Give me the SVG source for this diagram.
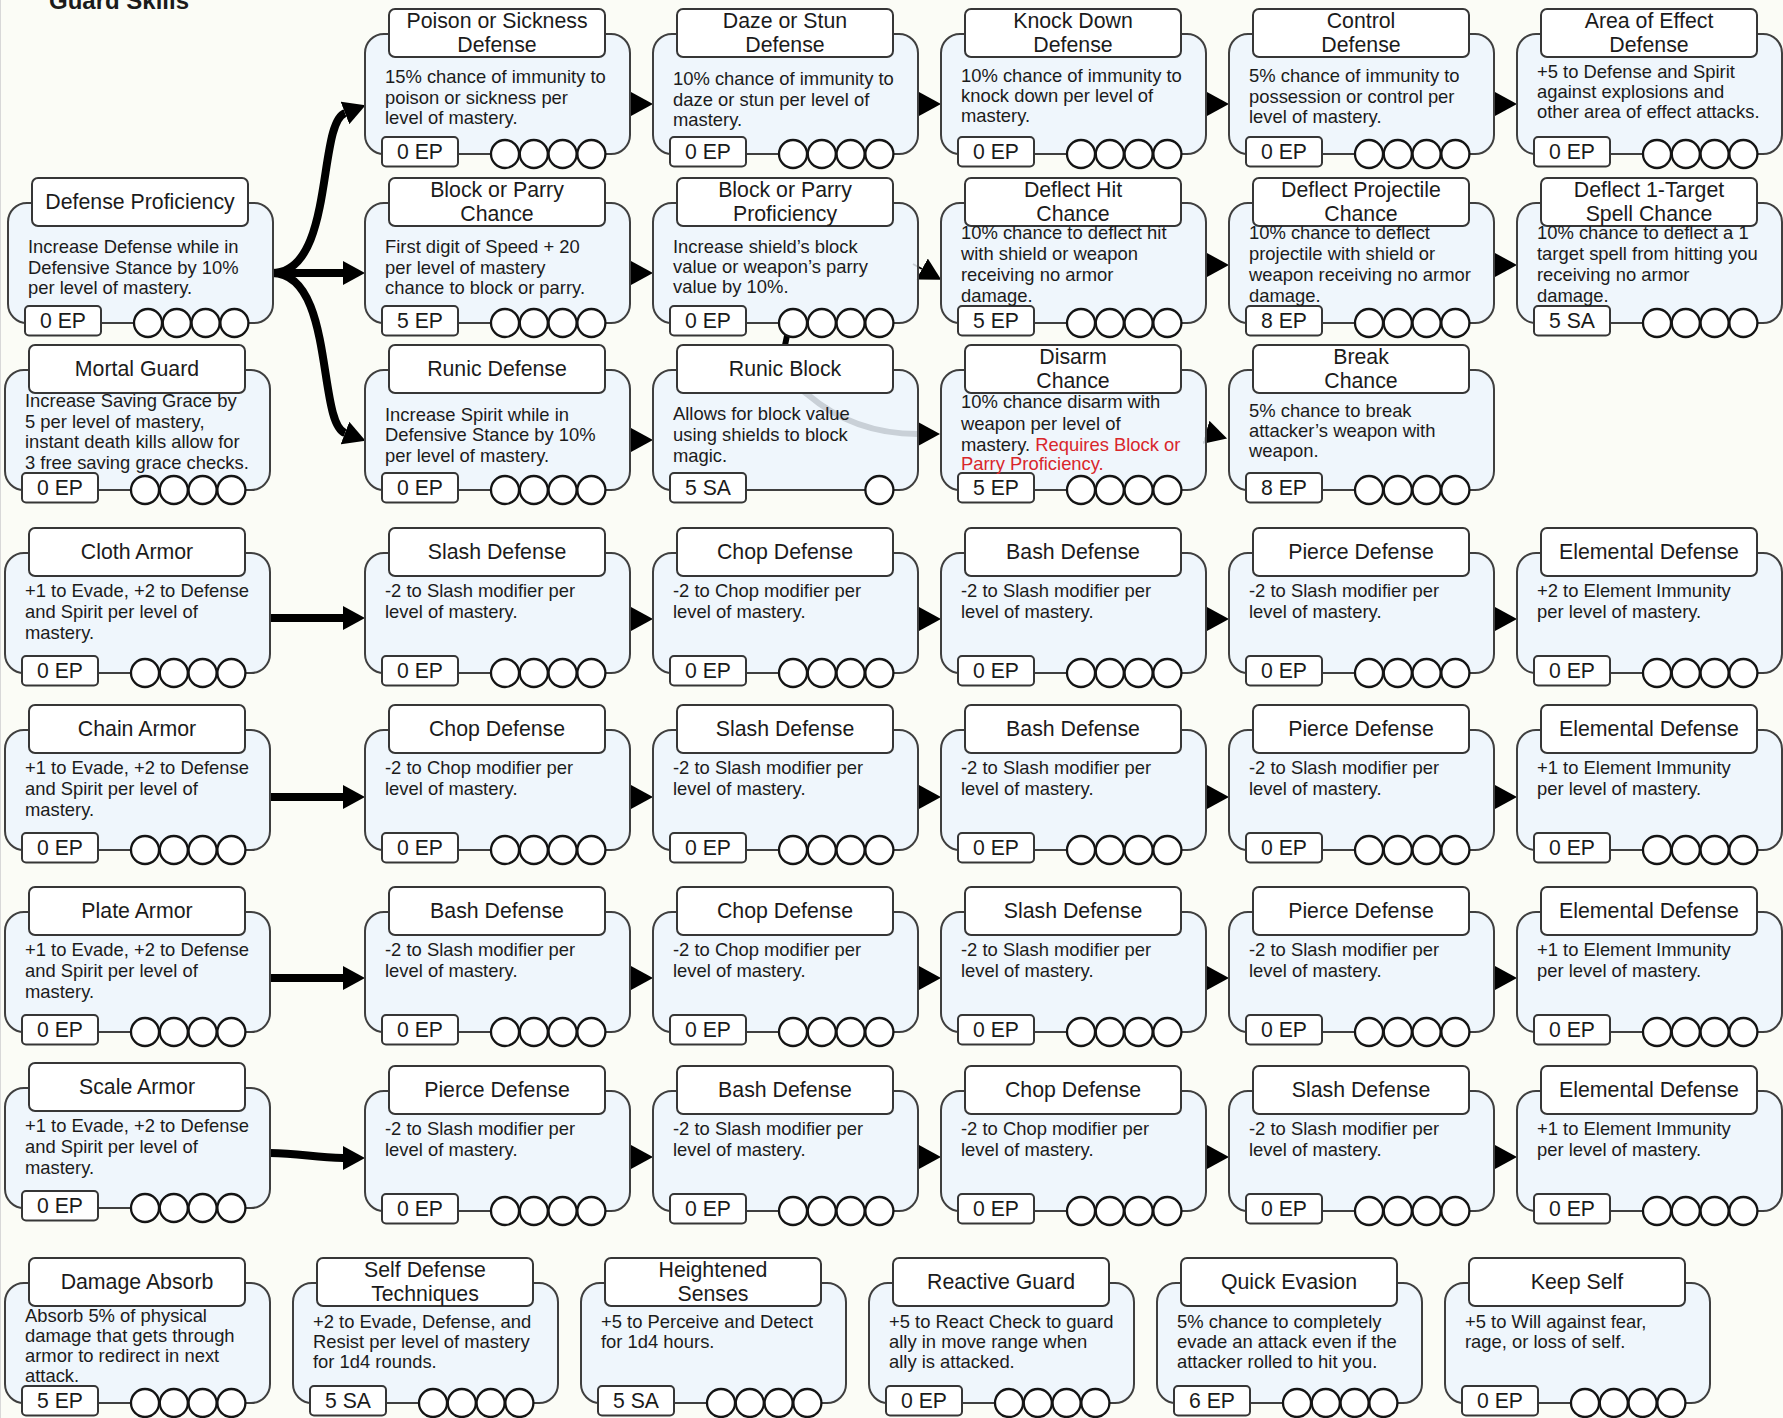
<svg xmlns="http://www.w3.org/2000/svg" xmlns:xlink="http://www.w3.org/1999/xlink" width="1783" height="1418" viewBox="0 0 1783 1418">
<style>
.bd{fill:#ecf4fd;fill-opacity:.85;stroke:#3f3f3f;stroke-width:2}
.tb{fill:#fff;stroke:#363636;stroke-width:2}
.eb{fill:#fff;stroke:#363636;stroke-width:2}
.ck{fill:#fff;stroke:#141414;stroke-width:2.3}
text{font-family:"Liberation Sans",Arial,sans-serif;fill:#1b1b1b}
.t{font-size:21.3px;text-anchor:middle}
.d{font-size:18.4px}
.e{font-size:21.2px;text-anchor:middle}
.r{fill:#d9262b}
.h{font-size:24px;font-weight:bold}
.cn{fill:none;stroke:#000;stroke-width:2;marker-end:url(#ah)}
.ct{fill:none;stroke:#000;stroke-width:8;marker-end:url(#ah)}
</style>
<defs>
<marker id="ah" markerUnits="userSpaceOnUse" markerWidth="22" markerHeight="24" viewBox="0 0 22 24" refX="0" refY="12" orient="auto"><path d="M0,0 L22,12 L0,24 z" fill="#000"/></marker>
<!-- skill card: body, title tab, cost box, four mastery pips -->
<g id="frame">
<rect class="bd" x="0" y="0" width="265" height="120" rx="19"/>
<rect class="tb" x="24" y="-25" width="216" height="48" rx="6"/>
<rect class="eb" x="17" y="103" width="76" height="29.5" rx="4"/>
<circle class="ck" cx="140" cy="120" r="14"/>
<circle class="ck" cx="168.8" cy="120" r="14"/>
<circle class="ck" cx="197.6" cy="120" r="14"/>
<circle class="ck" cx="226.4" cy="120" r="14"/>
</g>
<!-- single-pip variant -->
<g id="frame1">
<rect class="bd" x="0" y="0" width="265" height="120" rx="19"/>
<rect class="tb" x="24" y="-25" width="216" height="48" rx="6"/>
<rect class="eb" x="17" y="103" width="76" height="29.5" rx="4"/>
<circle class="ck" cx="226.4" cy="120" r="14"/>
</g>
</defs>

<rect width="1783" height="1418" fill="#fbfcf6"/>
<line x1="0.5" y1="0" x2="0.5" y2="1418" stroke="#d8d8d8"/>
<text class="h" x="49" y="9">Guard Skills</text>

<!-- connectors -->
<g id="connectors">
<path class="ct" d="M272,273 C335,273 317,123.7 345,113"/>
<path class="ct" d="M272,273 L343,273"/>
<path class="ct" d="M272,273 C335,273 317,422.3 345,433"/>
<path class="ct" d="M270,618 L343,618"/>
<path class="ct" d="M270,797 L343,797"/>
<path class="ct" d="M270,978 L343,978"/>
<path class="ct" d="M270,1153 C300,1153 315,1158 343,1158"/>
<path d="M788,331 L784,350 C781,368 792,384 807,394 C835,418 872,434 918,434" fill="none" stroke="#000" stroke-width="6" marker-end="url(#ah)"/>
<!-- row A -->
<path class="cn" d="M630,104 h1"/><path class="cn" d="M918,104 h1"/><path class="cn" d="M1206,104 h1"/><path class="cn" d="M1494,104 h1"/>
<!-- row B -->
<path class="cn" d="M630,273 h1"/><path class="cn" d="M913,264 L922,269"/><path class="cn" d="M1206,265 h1"/><path class="cn" d="M1494,265 h1"/>
<!-- row C -->
<path class="cn" d="M630,440 h1"/><path class="cn" d="M1205,432 l1,0.3"/>
<!-- armor rows -->
<path class="cn" d="M630,619 h1"/><path class="cn" d="M918,619 h1"/><path class="cn" d="M1206,619 h1"/><path class="cn" d="M1494,619 h1"/>
<path class="cn" d="M630,797 h1"/><path class="cn" d="M918,797 h1"/><path class="cn" d="M1206,797 h1"/><path class="cn" d="M1494,797 h1"/>
<path class="cn" d="M630,978 h1"/><path class="cn" d="M918,978 h1"/><path class="cn" d="M1206,978 h1"/><path class="cn" d="M1494,978 h1"/>
<path class="cn" d="M630,1157 h1"/><path class="cn" d="M918,1157 h1"/><path class="cn" d="M1206,1157 h1"/><path class="cn" d="M1494,1157 h1"/>
</g>

<!-- row A -->
<g id="poison-sickness-defense" transform="translate(365,34)"><use xlink:href="#frame"/>
<text class="t" x="132" y="-6.5">Poison or Sickness</text><text class="t" x="132" y="17.5">Defense</text>
<text class="d"><tspan x="20" y="49">15% chance of immunity to</tspan><tspan x="20" y="70">poison or sickness per</tspan><tspan x="20" y="90">level of mastery.</tspan></text>
<text class="e" x="55" y="125">0 EP</text></g>
<g id="daze-stun-defense" transform="translate(653,34)"><use xlink:href="#frame"/>
<text class="t" x="132" y="-6.5">Daze or Stun</text><text class="t" x="132" y="17.5">Defense</text>
<text class="d"><tspan x="20" y="51">10% chance of immunity to</tspan><tspan x="20" y="72">daze or stun per level of</tspan><tspan x="20" y="92">mastery.</tspan></text>
<text class="e" x="55" y="125">0 EP</text></g>
<g id="knock-down-defense" transform="translate(941,34)"><use xlink:href="#frame"/>
<text class="t" x="132" y="-6.5">Knock Down</text><text class="t" x="132" y="17.5">Defense</text>
<text class="d"><tspan x="20" y="48">10% chance of immunity to</tspan><tspan x="20" y="68">knock down per level of</tspan><tspan x="20" y="88">mastery.</tspan></text>
<text class="e" x="55" y="125">0 EP</text></g>
<g id="control-defense" transform="translate(1229,34)"><use xlink:href="#frame"/>
<text class="t" x="132" y="-6.5">Control</text><text class="t" x="132" y="17.5">Defense</text>
<text class="d"><tspan x="20" y="48">5% chance of immunity to</tspan><tspan x="20" y="69">possession or control per</tspan><tspan x="20" y="89">level of mastery.</tspan></text>
<text class="e" x="55" y="125">0 EP</text></g>
<g id="area-effect-defense" transform="translate(1517,34)"><use xlink:href="#frame"/>
<text class="t" x="132" y="-6.5">Area of Effect</text><text class="t" x="132" y="17.5">Defense</text>
<text class="d"><tspan x="20" y="44">+5 to Defense and Spirit</tspan><tspan x="20" y="64">against explosions and</tspan><tspan x="20" y="84">other area of effect attacks.</tspan></text>
<text class="e" x="55" y="125">0 EP</text></g>

<!-- row B -->
<g id="defense-proficiency" transform="translate(8,203)"><use xlink:href="#frame"/>
<text class="t" x="132" y="6">Defense Proficiency</text>
<text class="d"><tspan x="20" y="50">Increase Defense while in</tspan><tspan x="20" y="70.5">Defensive Stance by 10%</tspan><tspan x="20" y="91">per level of mastery.</tspan></text>
<text class="e" x="55" y="125">0 EP</text></g>
<g id="block-parry-chance" transform="translate(365,203)"><use xlink:href="#frame"/>
<text class="t" x="132" y="-6.5">Block or Parry</text><text class="t" x="132" y="17.5">Chance</text>
<text class="d"><tspan x="20" y="50">First digit of Speed + 20</tspan><tspan x="20" y="71">per level of mastery</tspan><tspan x="20" y="91">chance to block or parry.</tspan></text>
<text class="e" x="55" y="125">5 EP</text></g>
<g id="block-parry-proficiency" transform="translate(653,203)"><use xlink:href="#frame"/>
<text class="t" x="132" y="-6.5">Block or Parry</text><text class="t" x="132" y="17.5">Proficiency</text>
<text class="d"><tspan x="20" y="50">Increase shield’s block</tspan><tspan x="20" y="70">value or weapon’s parry</tspan><tspan x="20" y="90">value by 10%.</tspan></text>
<text class="e" x="55" y="125">0 EP</text></g>
<g id="deflect-hit-chance" transform="translate(941,203)"><use xlink:href="#frame"/>
<text class="t" x="132" y="-6.5">Deflect Hit</text><text class="t" x="132" y="17.5">Chance</text>
<text class="d"><tspan x="20" y="36">10% chance to deflect hit</tspan><tspan x="20" y="57">with shield or weapon</tspan><tspan x="20" y="78">receiving no armor</tspan><tspan x="20" y="98.5">damage.</tspan></text>
<text class="e" x="55" y="125">5 EP</text></g>
<g id="deflect-projectile-chance" transform="translate(1229,203)"><use xlink:href="#frame"/>
<text class="t" x="132" y="-6.5">Deflect Projectile</text><text class="t" x="132" y="17.5">Chance</text>
<text class="d"><tspan x="20" y="36">10% chance to deflect</tspan><tspan x="20" y="57">projectile with shield or</tspan><tspan x="20" y="78">weapon receiving no armor</tspan><tspan x="20" y="98.5">damage.</tspan></text>
<text class="e" x="55" y="125">8 EP</text></g>
<g id="deflect-spell-chance" transform="translate(1517,203)"><use xlink:href="#frame"/>
<text class="t" x="132" y="-6.5">Deflect 1-Target</text><text class="t" x="132" y="17.5">Spell Chance</text>
<text class="d"><tspan x="20" y="36">10% chance to deflect a 1</tspan><tspan x="20" y="57">target spell from hitting you</tspan><tspan x="20" y="78">receiving no armor</tspan><tspan x="20" y="98.5">damage.</tspan></text>
<text class="e" x="55" y="125">5 SA</text></g>

<!-- row C -->
<g id="mortal-guard" transform="translate(5,370)"><use xlink:href="#frame"/>
<text class="t" x="132" y="6">Mortal Guard</text>
<text class="d"><tspan x="20" y="37">Increase Saving Grace by</tspan><tspan x="20" y="58">5 per level of mastery,</tspan><tspan x="20" y="78">instant death kills allow for</tspan><tspan x="20" y="98.5">3 free saving grace checks.</tspan></text>
<text class="e" x="55" y="125">0 EP</text></g>
<g id="runic-defense" transform="translate(365,370)"><use xlink:href="#frame"/>
<text class="t" x="132" y="6">Runic Defense</text>
<text class="d"><tspan x="20" y="51">Increase Spirit while in</tspan><tspan x="20" y="71">Defensive Stance by 10%</tspan><tspan x="20" y="92">per level of mastery.</tspan></text>
<text class="e" x="55" y="125">0 EP</text></g>
<g id="runic-block" transform="translate(653,370)"><use xlink:href="#frame1"/>
<text class="t" x="132" y="6">Runic Block</text>
<text class="d"><tspan x="20" y="50">Allows for block value</tspan><tspan x="20" y="71">using shields to block</tspan><tspan x="20" y="92">magic.</tspan></text>
<text class="e" x="55" y="125">5 SA</text></g>
<g id="disarm-chance" transform="translate(941,370)"><use xlink:href="#frame"/>
<text class="t" x="132" y="-6.5">Disarm</text><text class="t" x="132" y="17.5">Chance</text>
<text class="d"><tspan x="20" y="38">10% chance disarm with</tspan><tspan x="20" y="60">weapon per level of</tspan><tspan x="20" y="81">mastery. <tspan class="r">Requires Block or</tspan></tspan><tspan class="r" x="20" y="100">Parry Proficiency.</tspan></text>
<text class="e" x="55" y="125">5 EP</text></g>
<g id="break-chance" transform="translate(1229,370)"><use xlink:href="#frame"/>
<text class="t" x="132" y="-6.5">Break</text><text class="t" x="132" y="17.5">Chance</text>
<text class="d"><tspan x="20" y="47">5% chance to break</tspan><tspan x="20" y="67">attacker’s weapon with</tspan><tspan x="20" y="87">weapon.</tspan></text>
<text class="e" x="55" y="125">8 EP</text></g>

<!-- cloth armor row -->
<g id="cloth-armor" transform="translate(5,553)"><use xlink:href="#frame"/>
<text class="t" x="132" y="6">Cloth Armor</text>
<text class="d"><tspan x="20" y="44">+1 to Evade, +2 to Defense</tspan><tspan x="20" y="65">and Spirit per level of</tspan><tspan x="20" y="86">mastery.</tspan></text>
<text class="e" x="55" y="125">0 EP</text></g>
<g id="cloth-slash" transform="translate(365,553)"><use xlink:href="#frame"/>
<text class="t" x="132" y="6">Slash Defense</text>
<text class="d"><tspan x="20" y="44">-2 to Slash modifier per</tspan><tspan x="20" y="65">level of mastery.</tspan></text>
<text class="e" x="55" y="125">0 EP</text></g>
<g id="cloth-chop" transform="translate(653,553)"><use xlink:href="#frame"/>
<text class="t" x="132" y="6">Chop Defense</text>
<text class="d"><tspan x="20" y="44">-2 to Chop modifier per</tspan><tspan x="20" y="65">level of mastery.</tspan></text>
<text class="e" x="55" y="125">0 EP</text></g>
<g id="cloth-bash" transform="translate(941,553)"><use xlink:href="#frame"/>
<text class="t" x="132" y="6">Bash Defense</text>
<text class="d"><tspan x="20" y="44">-2 to Slash modifier per</tspan><tspan x="20" y="65">level of mastery.</tspan></text>
<text class="e" x="55" y="125">0 EP</text></g>
<g id="cloth-pierce" transform="translate(1229,553)"><use xlink:href="#frame"/>
<text class="t" x="132" y="6">Pierce Defense</text>
<text class="d"><tspan x="20" y="44">-2 to Slash modifier per</tspan><tspan x="20" y="65">level of mastery.</tspan></text>
<text class="e" x="55" y="125">0 EP</text></g>
<g id="cloth-elemental" transform="translate(1517,553)"><use xlink:href="#frame"/>
<text class="t" x="132" y="6">Elemental Defense</text>
<text class="d"><tspan x="20" y="44">+2 to Element Immunity</tspan><tspan x="20" y="65">per level of mastery.</tspan></text>
<text class="e" x="55" y="125">0 EP</text></g>

<!-- chain armor row -->
<g id="chain-armor" transform="translate(5,730)"><use xlink:href="#frame"/>
<text class="t" x="132" y="6">Chain Armor</text>
<text class="d"><tspan x="20" y="44">+1 to Evade, +2 to Defense</tspan><tspan x="20" y="65">and Spirit per level of</tspan><tspan x="20" y="86">mastery.</tspan></text>
<text class="e" x="55" y="125">0 EP</text></g>
<g id="chain-chop" transform="translate(365,730)"><use xlink:href="#frame"/>
<text class="t" x="132" y="6">Chop Defense</text>
<text class="d"><tspan x="20" y="44">-2 to Chop modifier per</tspan><tspan x="20" y="65">level of mastery.</tspan></text>
<text class="e" x="55" y="125">0 EP</text></g>
<g id="chain-slash" transform="translate(653,730)"><use xlink:href="#frame"/>
<text class="t" x="132" y="6">Slash Defense</text>
<text class="d"><tspan x="20" y="44">-2 to Slash modifier per</tspan><tspan x="20" y="65">level of mastery.</tspan></text>
<text class="e" x="55" y="125">0 EP</text></g>
<g id="chain-bash" transform="translate(941,730)"><use xlink:href="#frame"/>
<text class="t" x="132" y="6">Bash Defense</text>
<text class="d"><tspan x="20" y="44">-2 to Slash modifier per</tspan><tspan x="20" y="65">level of mastery.</tspan></text>
<text class="e" x="55" y="125">0 EP</text></g>
<g id="chain-pierce" transform="translate(1229,730)"><use xlink:href="#frame"/>
<text class="t" x="132" y="6">Pierce Defense</text>
<text class="d"><tspan x="20" y="44">-2 to Slash modifier per</tspan><tspan x="20" y="65">level of mastery.</tspan></text>
<text class="e" x="55" y="125">0 EP</text></g>
<g id="chain-elemental" transform="translate(1517,730)"><use xlink:href="#frame"/>
<text class="t" x="132" y="6">Elemental Defense</text>
<text class="d"><tspan x="20" y="44">+1 to Element Immunity</tspan><tspan x="20" y="65">per level of mastery.</tspan></text>
<text class="e" x="55" y="125">0 EP</text></g>

<!-- plate armor row -->
<g id="plate-armor" transform="translate(5,912)"><use xlink:href="#frame"/>
<text class="t" x="132" y="6">Plate Armor</text>
<text class="d"><tspan x="20" y="44">+1 to Evade, +2 to Defense</tspan><tspan x="20" y="65">and Spirit per level of</tspan><tspan x="20" y="86">mastery.</tspan></text>
<text class="e" x="55" y="125">0 EP</text></g>
<g id="plate-bash" transform="translate(365,912)"><use xlink:href="#frame"/>
<text class="t" x="132" y="6">Bash Defense</text>
<text class="d"><tspan x="20" y="44">-2 to Slash modifier per</tspan><tspan x="20" y="65">level of mastery.</tspan></text>
<text class="e" x="55" y="125">0 EP</text></g>
<g id="plate-chop" transform="translate(653,912)"><use xlink:href="#frame"/>
<text class="t" x="132" y="6">Chop Defense</text>
<text class="d"><tspan x="20" y="44">-2 to Chop modifier per</tspan><tspan x="20" y="65">level of mastery.</tspan></text>
<text class="e" x="55" y="125">0 EP</text></g>
<g id="plate-slash" transform="translate(941,912)"><use xlink:href="#frame"/>
<text class="t" x="132" y="6">Slash Defense</text>
<text class="d"><tspan x="20" y="44">-2 to Slash modifier per</tspan><tspan x="20" y="65">level of mastery.</tspan></text>
<text class="e" x="55" y="125">0 EP</text></g>
<g id="plate-pierce" transform="translate(1229,912)"><use xlink:href="#frame"/>
<text class="t" x="132" y="6">Pierce Defense</text>
<text class="d"><tspan x="20" y="44">-2 to Slash modifier per</tspan><tspan x="20" y="65">level of mastery.</tspan></text>
<text class="e" x="55" y="125">0 EP</text></g>
<g id="plate-elemental" transform="translate(1517,912)"><use xlink:href="#frame"/>
<text class="t" x="132" y="6">Elemental Defense</text>
<text class="d"><tspan x="20" y="44">+1 to Element Immunity</tspan><tspan x="20" y="65">per level of mastery.</tspan></text>
<text class="e" x="55" y="125">0 EP</text></g>

<!-- scale armor row -->
<g id="scale-armor" transform="translate(5,1088)"><use xlink:href="#frame"/>
<text class="t" x="132" y="6">Scale Armor</text>
<text class="d"><tspan x="20" y="44">+1 to Evade, +2 to Defense</tspan><tspan x="20" y="65">and Spirit per level of</tspan><tspan x="20" y="86">mastery.</tspan></text>
<text class="e" x="55" y="125">0 EP</text></g>
<g id="scale-pierce" transform="translate(365,1091)"><use xlink:href="#frame"/>
<text class="t" x="132" y="6">Pierce Defense</text>
<text class="d"><tspan x="20" y="44">-2 to Slash modifier per</tspan><tspan x="20" y="65">level of mastery.</tspan></text>
<text class="e" x="55" y="125">0 EP</text></g>
<g id="scale-bash" transform="translate(653,1091)"><use xlink:href="#frame"/>
<text class="t" x="132" y="6">Bash Defense</text>
<text class="d"><tspan x="20" y="44">-2 to Slash modifier per</tspan><tspan x="20" y="65">level of mastery.</tspan></text>
<text class="e" x="55" y="125">0 EP</text></g>
<g id="scale-chop" transform="translate(941,1091)"><use xlink:href="#frame"/>
<text class="t" x="132" y="6">Chop Defense</text>
<text class="d"><tspan x="20" y="44">-2 to Chop modifier per</tspan><tspan x="20" y="65">level of mastery.</tspan></text>
<text class="e" x="55" y="125">0 EP</text></g>
<g id="scale-slash" transform="translate(1229,1091)"><use xlink:href="#frame"/>
<text class="t" x="132" y="6">Slash Defense</text>
<text class="d"><tspan x="20" y="44">-2 to Slash modifier per</tspan><tspan x="20" y="65">level of mastery.</tspan></text>
<text class="e" x="55" y="125">0 EP</text></g>
<g id="scale-elemental" transform="translate(1517,1091)"><use xlink:href="#frame"/>
<text class="t" x="132" y="6">Elemental Defense</text>
<text class="d"><tspan x="20" y="44">+1 to Element Immunity</tspan><tspan x="20" y="65">per level of mastery.</tspan></text>
<text class="e" x="55" y="125">0 EP</text></g>

<!-- standalone skills -->
<g id="damage-absorb" transform="translate(5,1283)"><use xlink:href="#frame"/>
<text class="t" x="132" y="6">Damage Absorb</text>
<text class="d"><tspan x="20" y="39">Absorb 5% of physical</tspan><tspan x="20" y="59">damage that gets through</tspan><tspan x="20" y="79">armor to redirect in next</tspan><tspan x="20" y="99">attack.</tspan></text>
<text class="e" x="55" y="125">5 EP</text></g>
<g id="self-defense-techniques" transform="translate(293,1283)"><use xlink:href="#frame"/>
<text class="t" x="132" y="-6.5">Self Defense</text><text class="t" x="132" y="17.5">Techniques</text>
<text class="d"><tspan x="20" y="45">+2 to Evade, Defense, and</tspan><tspan x="20" y="65">Resist per level of mastery</tspan><tspan x="20" y="85">for 1d4 rounds.</tspan></text>
<text class="e" x="55" y="125">5 SA</text></g>
<g id="heightened-senses" transform="translate(581,1283)"><use xlink:href="#frame"/>
<text class="t" x="132" y="-6.5">Heightened</text><text class="t" x="132" y="17.5">Senses</text>
<text class="d"><tspan x="20" y="45">+5 to Perceive and Detect</tspan><tspan x="20" y="65">for 1d4 hours.</tspan></text>
<text class="e" x="55" y="125">5 SA</text></g>
<g id="reactive-guard" transform="translate(869,1283)"><use xlink:href="#frame"/>
<text class="t" x="132" y="6">Reactive Guard</text>
<text class="d"><tspan x="20" y="45">+5 to React Check to guard</tspan><tspan x="20" y="65">ally in move range when</tspan><tspan x="20" y="85">ally is attacked.</tspan></text>
<text class="e" x="55" y="125">0 EP</text></g>
<g id="quick-evasion" transform="translate(1157,1283)"><use xlink:href="#frame"/>
<text class="t" x="132" y="6">Quick Evasion</text>
<text class="d"><tspan x="20" y="45">5% chance to completely</tspan><tspan x="20" y="65">evade an attack even if the</tspan><tspan x="20" y="85">attacker rolled to hit you.</tspan></text>
<text class="e" x="55" y="125">6 EP</text></g>
<g id="keep-self" transform="translate(1445,1283)"><use xlink:href="#frame"/>
<text class="t" x="132" y="6">Keep Self</text>
<text class="d"><tspan x="20" y="45">+5 to Will against fear,</tspan><tspan x="20" y="65">rage, or loss of self.</tspan></text>
<text class="e" x="55" y="125">0 EP</text></g>
</svg>
